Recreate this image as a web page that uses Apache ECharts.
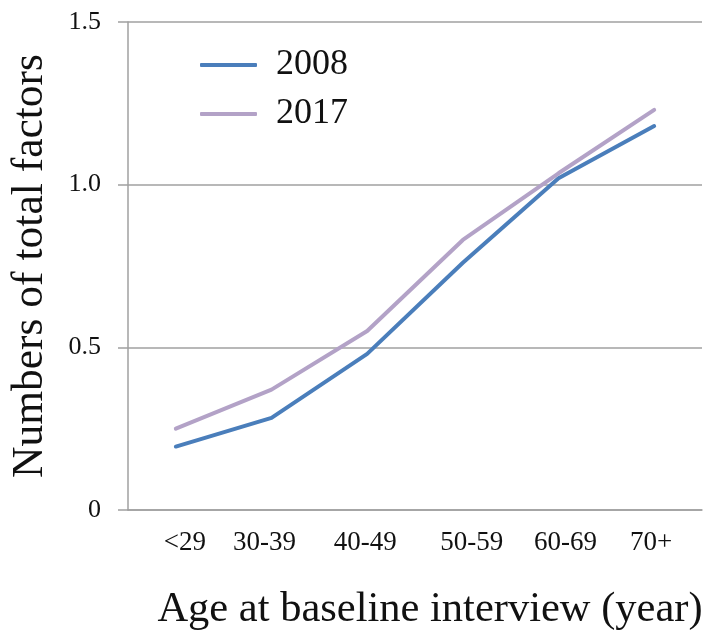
<!DOCTYPE html>
<html>
<head>
<meta charset="utf-8">
<script src="https://cdn.jsdelivr.net/npm/echarts@6/dist/echarts.min.js"></script>
<style>
html,body{margin:0;padding:0;background:#fff;}
#chart{width:706px;height:635px;}
</style>
</head>
<body>
<div id="chart"></div>
<script>
var categories = ['<29', '30-39', '40-49', '50-59', '60-69', '70+'];
var series2008 = [0.195, 0.283, 0.48, 0.76, 1.02, 1.18];
var series2017 = [0.25, 0.37, 0.55, 0.83, 1.035, 1.23];
var seriesNames = ['2008', '2017'];
var yTickLabels = { '0': '0', '0.5': '0.5', '1': '1.0', '1.5': '1.5' };
var yAxisTitle = 'Numbers of total factors';
var xAxisTitle = 'Age at baseline interview (year)';

var FONT = '"Liberation Serif", "Times New Roman", serif';
// small horizontal nudges of the category labels, as in the original figure
var labelShift = [9, -7, -2, 9, 7, -3];
var rich = {};
labelShift.forEach(function (s, i) {
  rich['c' + i] = {
    fontFamily: FONT, fontSize: 27, color: '#111',
    padding: s >= 0 ? [0, 0, 0, 2 * s] : [0, -2 * s, 0, 0]
  };
});

var chart = echarts.init(document.getElementById('chart'), null, {renderer: 'canvas'});
chart.setOption({
  animation: false,
  backgroundColor: '#ffffff',
  grid: { left: 128, right: 4, top: 22, bottom: 125, containLabel: false, outerBoundsMode: 'none' },
  legend: {
    orient: 'vertical',
    left: 195,
    top: 42,
    itemWidth: 57,
    itemHeight: 4,
    itemGap: 13,
    icon: 'roundRect',
    data: seriesNames,
    textStyle: { fontFamily: FONT, fontSize: 36, color: '#111', padding: [0, 0, 0, 14] }
  },
  xAxis: {
    type: 'category',
    data: categories,
    boundaryGap: true,
    axisLine: { show: true, lineStyle: { color: '#a0a0a0', width: 1.5 } },
    axisTick: { show: false },
    axisLabel: {
      fontFamily: FONT, fontSize: 27, color: '#111', margin: 19, interval: 0,
      formatter: function (v, i) { return '{c' + i + '|' + v + '}'; },
      rich: rich
    },
    name: xAxisTitle,
    nameLocation: 'middle',
    nameGap: 78,
    nameTextStyle: { fontFamily: FONT, fontSize: 42.5, color: '#111', padding: [0, 0, 0, 30] }
  },
  yAxis: {
    type: 'value',
    min: 0,
    max: 1.5,
    interval: 0.5,
    axisLine: { show: true, lineStyle: { color: '#a0a0a0', width: 1.5 } },
    axisTick: { show: true, length: 10, lineStyle: { color: '#a0a0a0', width: 1.5 } },
    splitLine: { show: true, lineStyle: { color: '#a0a0a0', width: 1.5 } },
    axisLabel: {
      fontFamily: FONT, fontSize: 26, color: '#111', margin: 27,
      formatter: function (v) { return yTickLabels[String(v)] !== undefined ? yTickLabels[String(v)] : String(v); }
    },
    name: yAxisTitle,
    nameLocation: 'middle',
    nameRotate: 90,
    nameGap: 75,
    nameTextStyle: { fontFamily: FONT, fontSize: 43.5, color: '#111' }
  },
  series: [
    {
      name: seriesNames[0], type: 'line', data: series2008, symbol: 'none',
      lineStyle: { color: '#4a7ebb', width: 4, cap: 'round', join: 'round' },
      itemStyle: { color: '#4a7ebb' }
    },
    {
      name: seriesNames[1], type: 'line', data: series2017, symbol: 'none',
      lineStyle: { color: '#b3a2c7', width: 4, cap: 'round', join: 'round' },
      itemStyle: { color: '#b3a2c7' }
    }
  ]
});
</script>
</body>
</html>
